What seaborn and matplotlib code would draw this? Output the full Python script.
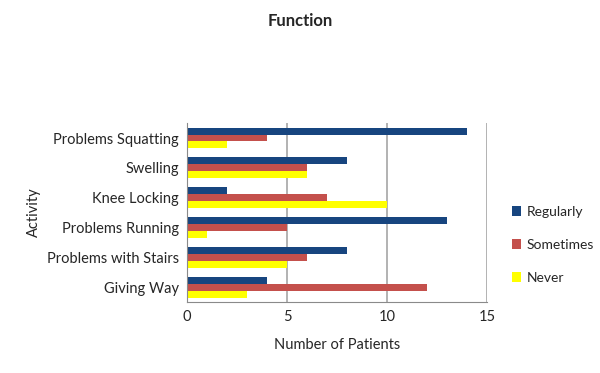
import matplotlib
matplotlib.use("Agg")
import matplotlib.pyplot as plt
import seaborn as sns
import pandas as pd

activities = ["Problems Squatting", "Swelling", "Knee Locking",
              "Problems Running", "Problems with Stairs", "Giving Way"]
regularly = [14, 8, 2, 13, 8, 4]
sometimes = [4, 6, 7, 5, 6, 12]
never = [2, 6, 10, 1, 5, 3]
series = ["Regularly", "Sometimes", "Never"]
colours = ["#17457F", "#C4504C", "#FFFF00"]

df = pd.DataFrame({
    "Activity": activities * 3,
    "Patients": regularly + sometimes + never,
    "Series": [s for s in series for _ in activities],
})

sns.set_style("white")
plt.rcParams["font.family"] = ["Lato", "DejaVu Sans"]

fig = plt.figure(figsize=(6, 3.73), dpi=100)
ax = fig.add_axes([0.312, 0.19, 0.5, 0.48])

sns.barplot(data=df, y="Activity", x="Patients", hue="Series",
            hue_order=series, palette=colours, orient="h",
            width=0.7, saturation=1, linewidth=0, ax=ax, legend=True)

ax.set_xlim(0, 15)
ax.set_xticks([0, 5, 10, 15])
ax.set_ylim(len(activities) - 0.5, -0.5)
ax.set_yticks([i - 0.5 for i in range(len(activities) + 1)], minor=True)
ax.grid(axis="x", color="#a6a6a6", linewidth=1.2)
ax.set_axisbelow(True)
for s in ["top", "right"]:
    ax.spines[s].set_visible(False)
ax.spines["left"].set_color("#8a8a8a")
ax.spines["bottom"].set_color("#8a8a8a")
ax.tick_params(axis="both", labelsize=10.5, length=0, pad=6)
ax.tick_params(axis="y", which="minor", length=3, color="#8a8a8a")

ax.set_xlabel("Number of Patients", fontsize=10.5, labelpad=10)
ax.set_ylabel("Activity", fontsize=10.5)
fig.text(0.5, 0.945, "Function", ha="center", va="center",
         fontsize=12, fontweight="bold")

ax.legend(title=None, frameon=False, loc="center left",
          bbox_to_anchor=(1.04, 0.32), fontsize=10,
          handlelength=0.7, handleheight=0.7, labelspacing=1.5,
          handletextpad=0.4)

fig.savefig("out.png", dpi=100)
